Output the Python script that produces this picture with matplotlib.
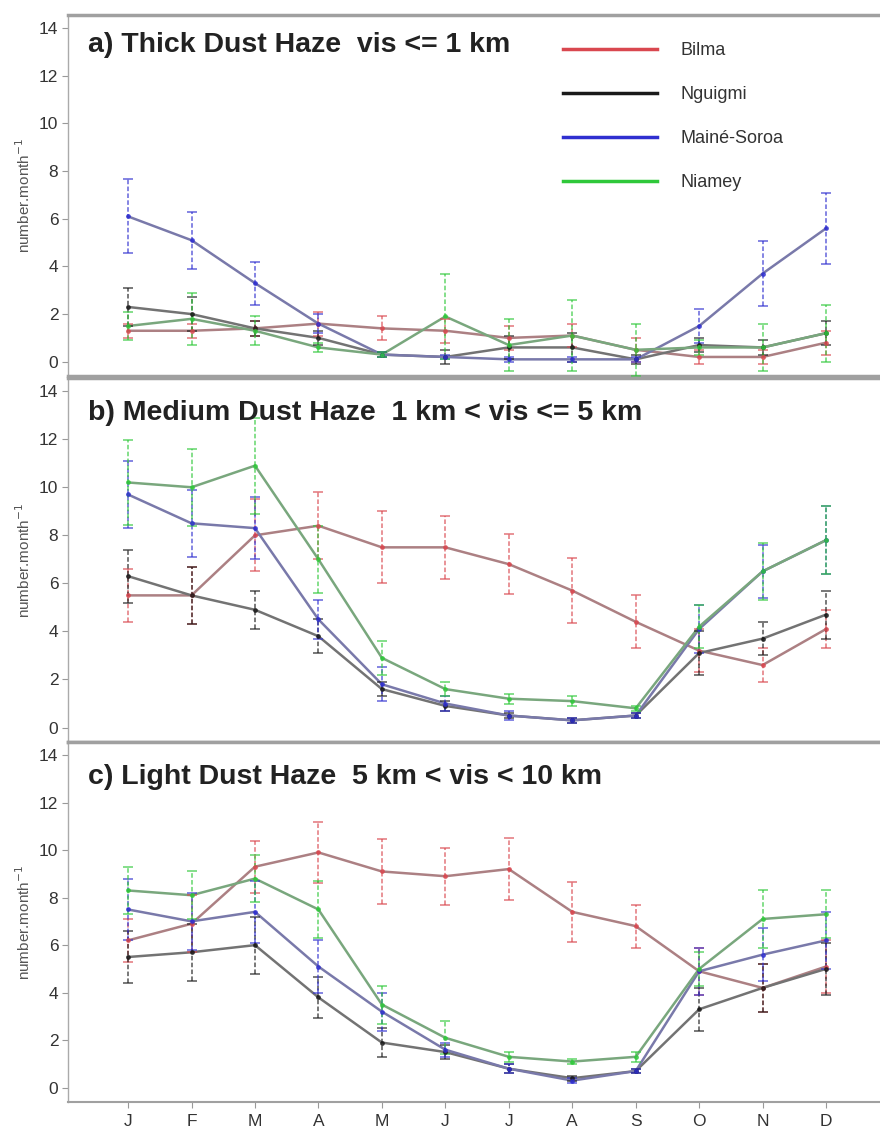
import numpy as np
import matplotlib
matplotlib.use("Agg")
import matplotlib.pyplot as plt
import matplotlib.colors as mcolors
from matplotlib.lines import Line2D

plt.rcParams['font.family'] = ['Liberation Sans', 'DejaVu Sans']

months = np.arange(1, 13)
month_labels = ['J', 'F', 'M', 'A', 'M', 'J', 'J', 'A', 'S', 'O', 'N', 'D']
stations = ['Bilma', 'Nguigmi', 'Mainé-Soroa', 'Niamey']

# a) thick dust haze
bilma_a = [1.3, 1.3, 1.4, 1.6, 1.4, 1.3, 1.0, 1.1, 0.5, 0.2, 0.2, 0.8]
bilma_a_err = [0.3, 0.3, 0.3, 0.5, 0.5, 0.5, 0.5, 0.5, 0.5, 0.3, 0.3, 0.5]
nguigmi_a = [2.3, 2.0, 1.4, 1.0, 0.3, 0.2, 0.6, 0.6, 0.1, 0.7, 0.6, 1.2]
nguigmi_a_err = [0.8, 0.7, 0.3, 0.3, 0.1, 0.3, 0.5, 0.6, 0.2, 0.3, 0.3, 0.5]
maine_a = [6.1, 5.1, 3.3, 1.6, 0.3, 0.2, 0.1, 0.1, 0.1, 1.5, 3.7, 5.6]
maine_a_err = [1.55, 1.2, 0.9, 0.4, 0.1, 0.1, 0.1, 0.1, 0.1, 0.7, 1.35, 1.5]
niamey_a = [1.5, 1.8, 1.3, 0.6, 0.3, 1.9, 0.7, 1.1, 0.5, 0.6, 0.6, 1.2]
niamey_a_err = [0.6, 1.1, 0.6, 0.2, 0.1, 1.8, 1.1, 1.5, 1.1, 0.3, 1.0, 1.2]

# b) medium dust haze
bilma_b = [5.5, 5.5, 8.0, 8.4, 7.5, 7.5, 6.8, 5.7, 4.4, 3.2, 2.6, 4.1]
bilma_b_err = [1.1, 1.2, 1.5, 1.4, 1.5, 1.3, 1.25, 1.35, 1.1, 0.9, 0.7, 0.8]
nguigmi_b = [6.3, 5.5, 4.9, 3.8, 1.6, 0.9, 0.5, 0.3, 0.5, 3.1, 3.7, 4.7]
nguigmi_b_err = [1.1, 1.2, 0.8, 0.7, 0.3, 0.2, 0.1, 0.1, 0.1, 0.9, 0.7, 1.0]
maine_b = [9.7, 8.5, 8.3, 4.5, 1.8, 1.0, 0.5, 0.3, 0.5, 4.1, 6.5, 7.8]
maine_b_err = [1.4, 1.4, 1.3, 0.8, 0.7, 0.3, 0.2, 0.1, 0.1, 1.0, 1.1, 1.4]
niamey_b = [10.2, 10.0, 10.9, 7.0, 2.9, 1.6, 1.2, 1.1, 0.8, 4.2, 6.5, 7.8]
niamey_b_err = [1.75, 1.6, 2.0, 1.4, 0.7, 0.3, 0.2, 0.2, 0.1, 0.9, 1.2, 1.4]

# c) light dust haze
bilma_c = [6.2, 6.9, 9.3, 9.9, 9.1, 8.9, 9.2, 7.4, 6.8, 4.9, 4.2, 5.1]
bilma_c_err = [0.9, 1.2, 1.1, 1.3, 1.35, 1.2, 1.3, 1.25, 0.9, 1.0, 1.0, 1.1]
nguigmi_c = [5.5, 5.7, 6.0, 3.8, 1.9, 1.5, 0.8, 0.4, 0.7, 3.3, 4.2, 5.0]
nguigmi_c_err = [1.1, 1.2, 1.2, 0.85, 0.6, 0.3, 0.2, 0.1, 0.1, 0.9, 1.0, 1.1]
maine_c = [7.5, 7.0, 7.4, 5.1, 3.2, 1.6, 0.8, 0.3, 0.7, 4.9, 5.6, 6.2]
maine_c_err = [1.3, 1.2, 1.3, 1.1, 0.8, 0.3, 0.2, 0.1, 0.1, 1.0, 1.1, 1.2]
niamey_c = [8.3, 8.1, 8.8, 7.5, 3.5, 2.1, 1.3, 1.1, 1.3, 5.0, 7.1, 7.3]
niamey_c_err = [1.0, 1.0, 1.0, 1.2, 0.8, 0.7, 0.2, 0.1, 0.2, 0.7, 1.2, 1.0]

titles = ['a) Thick Dust Haze  vis <= 1 km',
          'b) Medium Dust Haze  1 km < vis <= 5 km',
          'c) Light Dust Haze  5 km < vis < 10 km']

panels = [
    [(bilma_a, bilma_a_err), (nguigmi_a, nguigmi_a_err), (maine_a, maine_a_err), (niamey_a, niamey_a_err)],
    [(bilma_b, bilma_b_err), (nguigmi_b, nguigmi_b_err), (maine_b, maine_b_err), (niamey_b, niamey_b_err)],
    [(bilma_c, bilma_c_err), (nguigmi_c, nguigmi_c_err), (maine_c, maine_c_err), (niamey_c, niamey_c_err)],
]

colors = ['#d9474f', '#1a1a1a', '#2f2fd0', '#2fc83a']


def muted(c, k=0.3):
    # connecting lines look greyish in the original, only a tint of colour
    r = np.array(mcolors.to_rgb(c))
    return tuple(k * r + (1 - k) * np.array([0.6, 0.6, 0.6]))


fig = plt.figure(figsize=(8.8, 11.35), dpi=100)

# axes boxes in figure fractions (left, bottom, width, height)
boxes = [(0.0773, 0.6687, 0.9227, 0.318),
         (0.0773, 0.3463, 0.9227, 0.3207),
         (0.0773, 0.0291, 0.9227, 0.3172)]
title_y = [0.917, 0.904, 0.903]

for i, box in enumerate(boxes):
    ax = fig.add_axes(box)
    for j, (vals, err) in enumerate(panels[i]):
        ax.plot(months, vals, color=muted(colors[j]), lw=1.8, zorder=2)
        eb = ax.errorbar(months, vals, yerr=err, fmt='o', ms=2.5,
                         color=colors[j], ecolor=colors[j], elinewidth=1.1,
                         capsize=3.5, capthick=1.1, zorder=3, alpha=0.75)
        eb[2][0].set_linestyle((0, (3, 1.5)))

    ax.set_xlim(0.054, 12.85)
    ax.set_ylim(-0.6, 14.55)
    ax.set_yticks(range(0, 15, 2))
    ax.tick_params(axis='y', labelsize=12.5, labelcolor='#333333',
                   color='#999999', length=4, width=0.8, pad=3)
    ax.set_ylabel('number.month$^{-1}$', fontsize=11, color='#555555', labelpad=4)

    ax.spines['right'].set_visible(False)
    ax.spines['left'].set_color('#aaaaaa')
    ax.spines['left'].set_linewidth(1.0)
    ax.spines['top'].set_color('#a0a0a0')
    ax.spines['top'].set_linewidth(2.5)
    ax.spines['bottom'].set_color('#a0a0a0')
    ax.spines['bottom'].set_linewidth(2.5)

    ax.set_xticks(months)
    if i < 2:
        ax.tick_params(axis='x', length=0, labelbottom=False)
    else:
        ax.set_xticklabels(month_labels)
        ax.spines['bottom'].set_linewidth(1.5)
        ax.tick_params(axis='x', labelsize=12.5, labelcolor='#333333',
                       color='#999999', length=4, width=0.8, pad=5)

    ax.text(0.025, title_y[i], titles[i], transform=ax.transAxes,
            fontsize=20.5, fontweight='bold', color='#222222', va='center')

    if i == 0:
        handles = [Line2D([], [], color=c, lw=2.5) for c in colors]
        ax.legend(handles, stations, loc='upper left',
                  bbox_to_anchor=(0.59, 0.97), frameon=False, fontsize=13,
                  handlelength=5.2, handletextpad=1.3, labelspacing=1.5,
                  labelcolor='#333333')

fig.savefig('out.png', dpi=100)
